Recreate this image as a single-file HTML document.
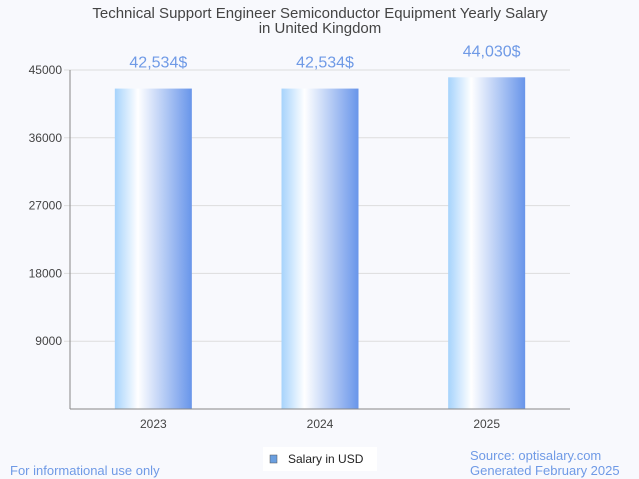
<!DOCTYPE html>
<html><head><meta charset="utf-8"><style>
body{margin:0;background:#f8f9fd;font-family:"Liberation Sans",sans-serif}
svg{display:block}
</style></head><body>
<svg width="639" height="479">
<defs><linearGradient id="g" x1="0" x2="1" y1="0" y2="0">
<stop offset="0" stop-color="#a6d3fc"/><stop offset="0.3" stop-color="#ffffff"/><stop offset="1" stop-color="#6895ea"/></linearGradient></defs>
<rect width="639" height="479" fill="#f8f9fd"/>
<text x="320" y="18" text-anchor="middle" font-size="15" fill="#444">Technical Support Engineer Semiconductor Equipment Yearly Salary</text>
<text x="320" y="33" text-anchor="middle" font-size="15" fill="#444">in United Kingdom</text>
<g id="grid"></g><g id="bars"></g>
<line x1="70" y1="70" x2="70" y2="409" stroke="#888"/>
<line x1="70" y1="409" x2="570" y2="409" stroke="#888"/>
<g><rect x="263" y="447" width="114" height="24" fill="#fff"/>
<rect x="270" y="455" width="7" height="8" fill="#6a9fe0" stroke="#555" stroke-width="0.5"/>
<text x="288" y="463" font-size="12" fill="#222">Salary in USD</text></g>
<text x="10" y="475" font-size="13" fill="#6f9ae6">For informational use only</text>
<text x="470" y="460" font-size="13" fill="#6f9ae6">Source: optisalary.com</text>
<text x="470" y="475" font-size="13" fill="#6f9ae6">Generated February 2025</text>
</svg>
<script>
const categories=["2023","2024","2025"];
const values=[42534,42534,44030];
const labels=["42,534$","42,534$","44,030$"];
const ticks=[9000,18000,27000,36000,45000];
const ns="http://www.w3.org/2000/svg";
const y=v=>409-v*(339/45000);
const band=500/categories.length;
const x=i=>70+band*(i+0.5);
const grid=document.getElementById('grid'),bars=document.getElementById('bars');
function mk(t,a,p){const e=document.createElementNS(ns,t);for(const k in a)e.setAttribute(k,a[k]);p.appendChild(e);return e;}
ticks.forEach(t=>{
 const l=mk('line',{x1:64,x2:570,y1:y(t),y2:y(t),stroke:'#ddd'},grid);
 
 
 const tx=mk('text',{x:62,y:y(t)+4,'text-anchor':'end','font-size':12,fill:'#444'},grid);tx.textContent=t;
 
 
});
categories.forEach((c,i)=>{
 const r=mk('rect',{x:x(i)-38.5,y:y(values[i]),width:77,height:409-y(values[i]),fill:'url(#g)'},bars);
 
 
 const v=mk('text',{x:x(i)+5,y:y(values[i])-21,'text-anchor':'middle','font-size':16,fill:'#6f9ae6'},bars);v.textContent=labels[i];
 
 
 const t=mk('text',{x:x(i),y:428,'text-anchor':'middle','font-size':12,fill:'#444'},bars);t.textContent=c;
 
 
});
</script>
</body></html>
